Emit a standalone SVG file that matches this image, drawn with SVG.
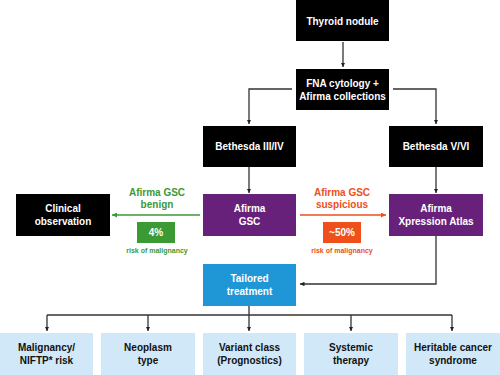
<svg xmlns="http://www.w3.org/2000/svg" width="500" height="375" viewBox="0 0 500 375">
<style>
text{font-family:"Liberation Sans",Arial,sans-serif;font-weight:bold;text-anchor:middle}
.w{fill:#fff;font-size:10px}
.d{fill:#111;font-size:10px}
.blk{fill:#000}
.pur{fill:#68217a}
.blu{fill:#1f97d6}
.lb{fill:#d0e8f7}
.ln{fill:none;stroke:#333;stroke-width:1.3}
.g{fill:#3c9a35}
.o{fill:#ee4f1b}
.sm{font-size:7px}
</style>
<defs>
<marker id="ah" viewBox="0 0 10 10" refX="10" refY="5" markerWidth="4.5" markerHeight="4.5" orient="auto" markerUnits="userSpaceOnUse"><path d="M0,0 L10,5 L0,10 z" fill="#222"/></marker>
<marker id="ag" viewBox="0 0 10 10" refX="10" refY="5" markerWidth="5" markerHeight="5" orient="auto" markerUnits="userSpaceOnUse"><path d="M0,0 L10,5 L0,10 z" fill="#3c9a35"/></marker>
<marker id="ao" viewBox="0 0 10 10" refX="10" refY="5" markerWidth="5" markerHeight="5" orient="auto" markerUnits="userSpaceOnUse"><path d="M0,0 L10,5 L0,10 z" fill="#ee4f1b"/></marker>
</defs>
<g id="connectors">
<path class="ln" d="M343,42 V67" marker-end="url(#ah)"/>
<path class="ln" d="M292,89 H249 V124" marker-end="url(#ah)"/>
<path class="ln" d="M393,89 H436 V124" marker-end="url(#ah)"/>
<path class="ln" d="M249,167 V193" marker-end="url(#ah)"/>
<path class="ln" d="M436,167 V193" marker-end="url(#ah)"/>
<path d="M200,215 H112" fill="none" stroke="#3c9a35" stroke-width="1.3" marker-end="url(#ag)"/>
<path d="M300,215 H386" fill="none" stroke="#ee4f1b" stroke-width="1.3" marker-end="url(#ao)"/>
<path class="ln" d="M436,236 V284 H300" marker-end="url(#ah)"/>
<path class="ln" d="M249,306 V315"/>
<path class="ln" d="M47,315 H452"/>
<path class="ln" d="M47,315 V331" marker-end="url(#ah)"/>
<path class="ln" d="M148,315 V331" marker-end="url(#ah)"/>
<path class="ln" d="M249,315 V331" marker-end="url(#ah)"/>
<path class="ln" d="M351,315 V331" marker-end="url(#ah)"/>
<path class="ln" d="M452,315 V331" marker-end="url(#ah)"/>
</g>
<g id="thyroid"><rect class="blk" x="296" y="0" width="93" height="41"/><text class="w" x="342.5" y="24.5">Thyroid nodule</text></g>
<g id="fna"><rect class="blk" x="296" y="69" width="93" height="41"/><text class="w" x="342.5" y="87">FNA cytology +</text><text class="w" x="342.5" y="100">Afirma collections</text></g>
<g id="beth34"><rect class="blk" x="203" y="126" width="93" height="41"/><text class="w" x="249.5" y="150">Bethesda III/IV</text></g>
<g id="beth56"><rect class="blk" x="389" y="126" width="94" height="41"/><text class="w" x="436" y="150">Bethesda V/VI</text></g>
<g id="clinical"><rect class="blk" x="16" y="194" width="94" height="42"/><text class="w" x="63" y="211.5">Clinical</text><text class="w" x="63" y="224.5">observation</text></g>
<g id="gsc"><rect class="pur" x="203" y="194" width="93" height="42"/><text class="w" x="249.5" y="211.5">Afirma</text><text class="w" x="249.5" y="224.5">GSC</text></g>
<g id="xpression"><rect class="pur" x="389" y="194" width="94" height="42"/><text class="w" x="436" y="211.5">Afirma</text><text class="w" x="436" y="224.5">Xpression Atlas</text></g>
<g id="benign"><text class="g" font-size="10" x="157" y="196">Afirma GSC</text><text class="g" font-size="10" x="157" y="207.5">benign</text><rect class="g" x="137" y="222" width="38" height="21"/><text class="w" x="156" y="236">4%</text><text class="g sm" x="157" y="253">risk of malignancy</text></g>
<g id="suspicious"><text class="o" font-size="10" x="342" y="196">Afirma GSC</text><text class="o" font-size="10" x="342" y="207.5">suspicious</text><rect class="o" x="323" y="222" width="38" height="21"/><text class="w" x="342" y="236">~50%</text><text class="o sm" x="342" y="253">risk of malignancy</text></g>
<g id="tailored"><rect class="blu" x="203" y="264" width="93" height="42"/><text class="w" x="249.5" y="281.5">Tailored</text><text class="w" x="249.5" y="294.5">treatment</text></g>
<g id="b1"><rect class="lb" x="0" y="333" width="93" height="42"/><text class="d" x="46.5" y="350.5">Malignancy/</text><text class="d" x="46.5" y="363.5">NIFTP* risk</text></g>
<g id="b2"><rect class="lb" x="101" y="333" width="94" height="42"/><text class="d" x="148" y="350.5">Neoplasm</text><text class="d" x="148" y="363.5">type</text></g>
<g id="b3"><rect class="lb" x="203" y="333" width="93" height="42"/><text class="d" x="249.5" y="350.5">Variant class</text><text class="d" x="249.5" y="363.5">(Prognostics)</text></g>
<g id="b4"><rect class="lb" x="304" y="333" width="94" height="42"/><text class="d" x="351" y="350.5">Systemic</text><text class="d" x="351" y="363.5">therapy</text></g>
<g id="b5"><rect class="lb" x="406" y="333" width="94" height="42"/><text class="d" x="453" y="350.5">Heritable cancer</text><text class="d" x="453" y="363.5">syndrome</text></g>
</svg>
